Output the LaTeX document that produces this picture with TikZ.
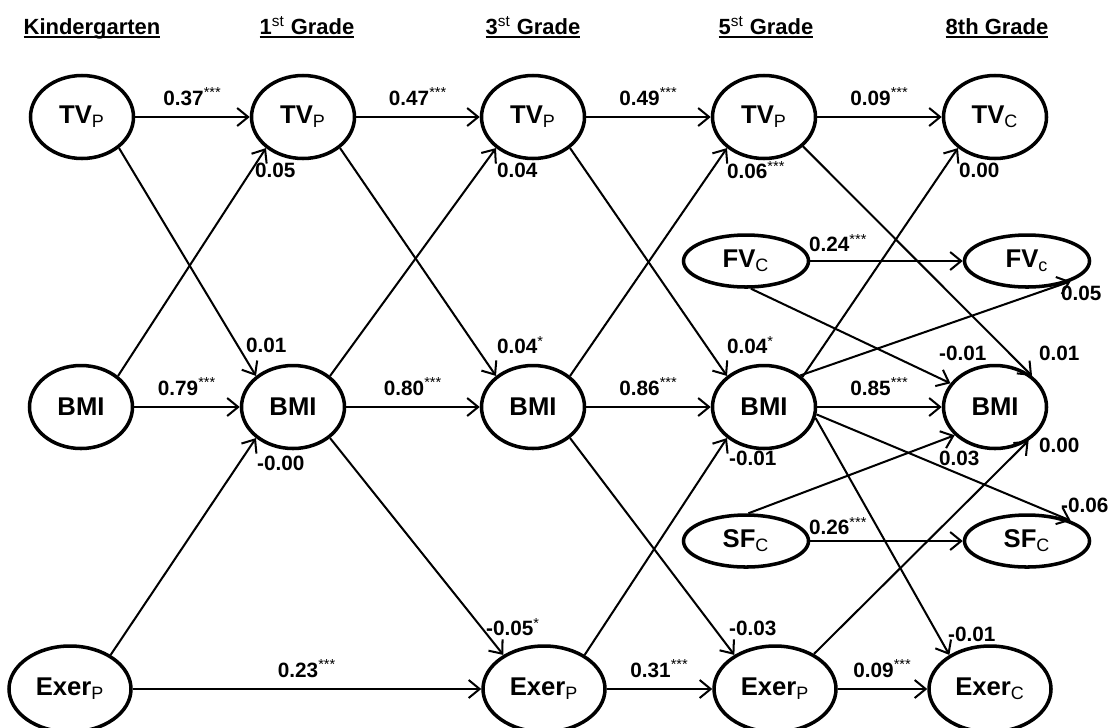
\documentclass[tikz,border=0pt]{standalone}
\usepackage{fontspec}
\setmainfont{Liberation Sans}
\usetikzlibrary{arrows.meta,shapes.geometric}

\newcommand{\idx}[1]{\textsubscript{\mdseries #1}}
\newcommand{\stars}[1]{\textsuperscript{\mdseries #1}}
\newcommand{\ulhead}[1]{\setbox0\hbox{#1}\rlap{\rule[-2.2pt]{\wd0}{1.1pt}}\box0}

\tikzset{
  var/.style={ellipse,draw,line width=2pt,minimum width=2.06cm,minimum height=1.66cm,inner sep=0pt,font=\fontsize{14.6}{17}\selectfont\bfseries},
  wide/.style={var,minimum width=2.44cm,minimum height=1.72cm},
  flat/.style={var,minimum width=2.5cm,minimum height=1.04cm},
  eff/.style={->,line width=1.15pt},
  coef/.style={font=\fontsize{11.8}{14}\selectfont\bfseries,inner sep=1pt},
  head/.style={font=\fontsize{12.5}{15}\selectfont\bfseries}
}

\begin{document}
\begin{tikzpicture}[>={Straight Barb[length=0.22cm,width=0.36cm]}]
\useasboundingbox (0cm,0cm) rectangle (22.18cm,-14.54cm);

% headings
\node[head,anchor=base] (hK) at (1.84cm,-0.68cm) {\ulhead{Kindergarten}};
\node[head,anchor=base] (hA) at (6.14cm,-0.68cm) {\ulhead{1\stars{st} Grade}};
\node[head,anchor=base] (hB) at (10.66cm,-0.68cm) {\ulhead{3\stars{st} Grade}};
\node[head,anchor=base] (hC) at (15.32cm,-0.68cm) {\ulhead{5\stars{st} Grade}};
\node[head,anchor=base] (hD) at (19.94cm,-0.68cm) {\ulhead{8th Grade}};

% TV
\node[var] (tvK) at (1.64cm,-2.34cm) {TV\idx{P}};
\node[var] (tvA) at (6.06cm,-2.34cm) {TV\idx{P}};
\node[var] (tvB) at (10.66cm,-2.34cm) {TV\idx{P}};
\node[var] (tvC) at (15.28cm,-2.34cm) {TV\idx{P}};
\node[var] (tvD) at (19.90cm,-2.34cm) {TV\idx{C}};

% BMI
\node[var] (bmiK) at (1.62cm,-8.14cm) {BMI};
\node[var] (bmiA) at (5.86cm,-8.14cm) {BMI};
\node[var] (bmiB) at (10.66cm,-8.14cm) {BMI};
\node[var] (bmiC) at (15.28cm,-8.14cm) {BMI};
\node[var] (bmiD) at (19.90cm,-8.14cm) {BMI};

% exercise
\node[wide] (exK) at (1.40cm,-13.78cm) {Exer\idx{P}};
\node[wide] (exB) at (10.88cm,-13.78cm) {Exer\idx{P}};
\node[wide] (exC) at (15.50cm,-13.78cm) {Exer\idx{P}};
\node[wide] (exD) at (19.80cm,-13.78cm) {Exer\idx{C}};

% child reports in 5th and 8th grade
\node[flat] (fvC) at (14.92cm,-5.22cm) {FV\idx{C}};
\node[flat] (fvD) at (20.54cm,-5.22cm) {FV\idx{c}};
\node[flat] (sfC) at (14.92cm,-10.82cm) {SF\idx{C}};
\node[flat] (sfD) at (20.54cm,-10.82cm) {SF\idx{C}};

% stability paths
\draw[eff] (tvK) -- node[coef,above=5pt] (s1) {0.37\stars{***}} (tvA);
\draw[eff] (tvA) -- node[coef,above=5pt] (s2) {0.47\stars{***}} (tvB);
\draw[eff] (tvB) -- node[coef,above=5pt] (s3) {0.49\stars{***}} (tvC);
\draw[eff] (tvC) -- node[coef,above=5pt] (s4) {0.09\stars{***}} (tvD);
\draw[eff] (bmiK) -- node[coef,above=5pt] (s5) {0.79\stars{***}} (bmiA);
\draw[eff] (bmiA) -- node[coef,above=5pt] (s6) {0.80\stars{***}} (bmiB);
\draw[eff] (bmiB) -- node[coef,above=5pt] (s7) {0.86\stars{***}} (bmiC);
\draw[eff] (bmiC) -- node[coef,above=5pt] (s8) {0.85\stars{***}} (bmiD);
\draw[eff] (exK) -- node[coef,above=5pt] (s9) {0.23\stars{***}} (exB);
\draw[eff] (exB) -- node[coef,above=5pt] (s10) {0.31\stars{***}} (exC);
\draw[eff] (exC) -- node[coef,above=5pt] (s11) {0.09\stars{***}} (exD);
\draw[eff] (fvC) -- (fvD);
\draw[eff] (sfC) -- (sfD);
\node[coef,anchor=west] (s12) at (16.14cm,-4.86cm) {0.24\stars{***}};
\node[coef,anchor=west] (s13) at (16.14cm,-10.52cm) {0.26\stars{***}};

% cross-lagged paths
\draw[eff] (tvK.-40) -- (bmiA.140);
\draw[eff] (bmiK.40) -- (tvA.220);
\draw[eff] (exK.40) -- (bmiA.220);
\draw[eff] (tvA.-40) -- (bmiB.140);
\draw[eff] (bmiA.40) -- (tvB.220);
\draw[eff] (bmiA.-40) -- (exB.140);
\draw[eff] (bmiB.40) -- (tvC.220);
\draw[eff] (tvB.-40) -- (bmiC.140);
\draw[eff] (exB.40) -- (bmiC.220);
\draw[eff] (bmiB.-40) -- (exC.140);
\draw[eff] (tvC.-37) -- (bmiD.40);
\draw[eff] (bmiC.38) -- (tvD.220);
\draw[eff] (bmiC.41) -- (fvD.-25);
\draw[eff] (fvC.-80) -- (bmiD.152);
\draw[eff] (bmiC.-8) -- (sfD.25);
\draw[eff] (bmiC.-12) -- (exD.140);
\draw[eff] (sfC.85) -- (bmiD.215);
\draw[eff] (exC.42) -- (bmiD.-45);

% cross-lagged coefficients
\node[coef,anchor=west] (x1) at (5.06cm,-3.40cm) {0.05};
\node[coef,anchor=west] (x2) at (9.90cm,-3.40cm) {0.04};
\node[coef,anchor=west] (x3) at (14.50cm,-3.40cm) {0.06\stars{***}};
\node[coef,anchor=west] (x4) at (19.14cm,-3.40cm) {0.00};
\node[coef,anchor=west] (x5) at (21.18cm,-5.86cm) {0.05};
\node[coef,anchor=west] (x6) at (4.88cm,-6.90cm) {0.01};
\node[coef,anchor=west] (x7) at (9.90cm,-6.90cm) {0.04\stars{*}};
\node[coef,anchor=west] (x8) at (14.50cm,-6.90cm) {0.04\stars{*}};
\node[coef,anchor=west] (x9) at (18.74cm,-7.06cm) {-0.01};
\node[coef,anchor=west] (x10) at (20.74cm,-7.06cm) {0.01};
\node[coef,anchor=west] (x11) at (5.10cm,-9.26cm) {-0.00};
\node[coef,anchor=west] (x12) at (14.54cm,-9.16cm) {-0.01};
\node[coef,anchor=west] (x13) at (18.74cm,-9.16cm) {0.03};
\node[coef,anchor=west] (x14) at (20.74cm,-8.90cm) {0.00};
\node[coef,anchor=west] (x15) at (21.18cm,-10.10cm) {-0.06};
\node[coef,anchor=west] (x16) at (9.68cm,-12.54cm) {-0.05\stars{*}};
\node[coef,anchor=west] (x17) at (14.54cm,-12.56cm) {-0.03};
\node[coef,anchor=west] (x18) at (18.92cm,-12.68cm) {-0.01};
\end{tikzpicture}
\end{document}
